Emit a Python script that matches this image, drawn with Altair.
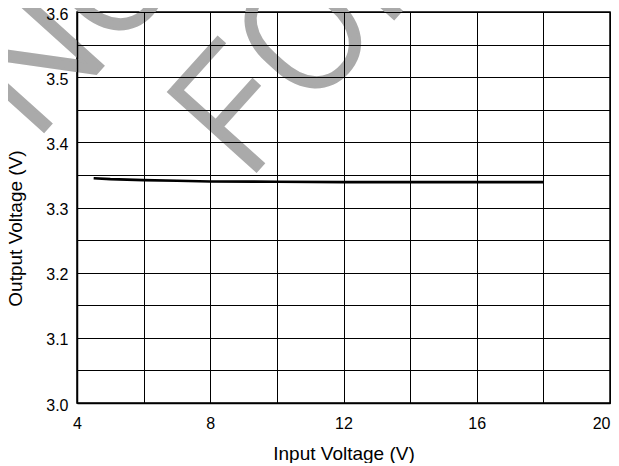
import altair as alt
import pandas as pd

# ---- data ----
vin = [4.5, 5, 6, 7, 8, 10, 12, 14, 16, 18]
vout = [3.345, 3.3435, 3.342, 3.341, 3.340, 3.3395, 3.339, 3.339, 3.339, 3.339]

x_ticks = [4, 6, 8, 10, 12, 14, 16, 18, 20]
y_ticks = [3.0, 3.05, 3.1, 3.15, 3.2, 3.25, 3.3, 3.35, 3.4, 3.45, 3.5, 3.55, 3.6]

wm_text = ["NOT", "FOR"]
wm_x = [2.71, 9.09]
wm_y = [3.400, 3.339]

df = pd.DataFrame({"x": vin, "y": vout})
wm = pd.DataFrame({"x": wm_x, "y": wm_y, "t": wm_text})

FONT = "Liberation Sans, Arial"

x_enc = alt.X(
    "x:Q",
    scale=alt.Scale(domain=[4, 20], nice=False, zero=False),
    axis=alt.Axis(
        values=x_ticks,
        labelExpr="datum.value % 4 == 0 ? datum.label : ''",
        labelAlign=alt.condition("datum.value == 20", alt.value("right"), alt.value("center")),
        title="Input Voltage (V)",
        grid=True,
        ticks=False,
        tickSize=0,
        labelPadding=12,
        labelFontSize=16,
        labelFont=FONT,
        labelColor="#000000",
        labelFlush=False,
        titleFont=FONT,
        titleFontSize=19,
        titleFontWeight="normal",
        titleColor="#000000",
        titleBaseline="alphabetic",
        titleY=56,
        zindex=1,
    ),
)
y_enc = alt.Y(
    "y:Q",
    scale=alt.Scale(domain=[3.0, 3.6], nice=False, zero=False),
    axis=alt.Axis(
        values=y_ticks,
        labelExpr="(round(datum.value * 100) % 10 == 0) ? format(datum.value, '.1f') : ''",
        title="Output Voltage (V)",
        grid=True,
        ticks=False,
        tickSize=0,
        labelPadding=9,
        labelOffset=2,
        labelFontSize=16,
        labelFont=FONT,
        labelColor="#000000",
        labelFlush=False,
        titleFont=FONT,
        titleFontSize=19,
        titleFontWeight="normal",
        titleColor="#000000",
        titleAngle=270,
        titleBaseline="alphabetic",
        titleX=-56,
        titleY=216,
        zindex=1,
    ),
)

watermark = alt.Chart(wm).mark_text(
    font="Roboto",
    fontWeight=300,
    fontSize=166,
    angle=312,
    align="left",
    baseline="alphabetic",
    color="#aaaaaa",
    stroke="#aaaaaa",
    strokeWidth=3,
).encode(x=x_enc, y=y_enc, text="t:N")

line = alt.Chart(df).mark_line(color="#000000", strokeWidth=2.6).encode(x=x_enc, y=y_enc)

chart = (
    alt.layer(watermark, line)
    .properties(
        width=533,
        height=391,
        autosize=alt.AutoSizeParams(type="none"),
        padding={"left": 69, "top": 4, "right": 1, "bottom": 60},
        background="#ffffff",
    )
    .configure_view(stroke="#000000", strokeWidth=1.5)
    .configure_axis(
        gridColor="#000000",
        gridWidth=1,
        gridOpacity=1,
        domainColor="#000000",
        domainWidth=1.5,
    )
)

chart.save("out.html", embed_options={"renderer": "svg", "actions": False})
